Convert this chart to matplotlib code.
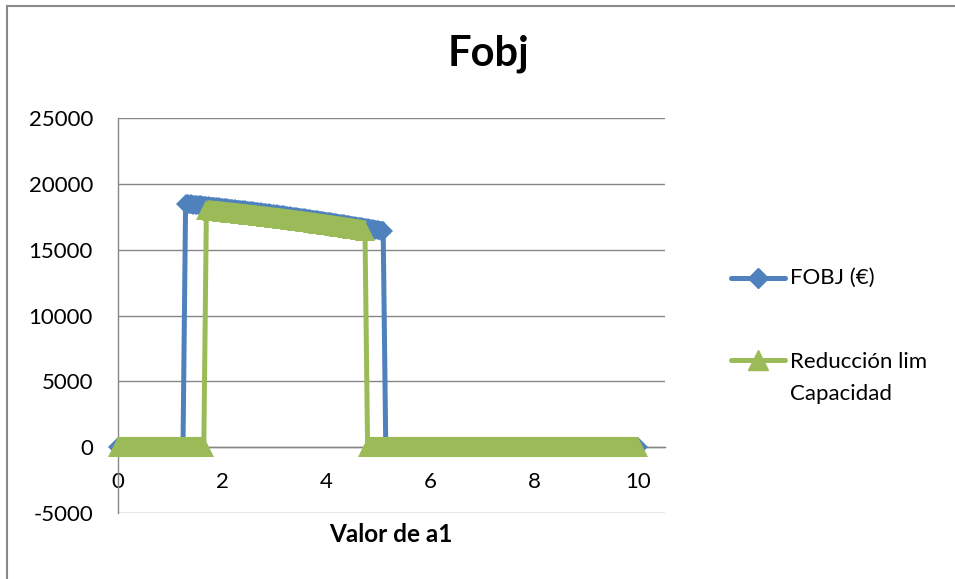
import numpy as np
import matplotlib
matplotlib.use("Agg")
import matplotlib.pyplot as plt
from matplotlib.lines import Line2D
from matplotlib.patches import Rectangle

plt.rcParams['font.family'] = ['Lato', 'DejaVu Sans']

# ---------------- data ----------------
title = "Fobj"
x_label = "Valor de a1"
series_names = ["FOBJ (€)", "Reducción lim\nCapacidad"]
x_ticks = [0, 2, 4, 6, 8, 10]
y_ticks = [-5000, 0, 5000, 10000, 15000, 20000, 25000]

# a1 sampled every 0.05 from 0 to 10
a1 = np.round(np.arange(0, 10.0001, 0.05), 2)

# FOBJ: zero for a1 <= 1.25, values for 1.30..5.10, zero for a1 >= 5.15
fobj_active = [18480, 18460, 18441, 18421, 18400, 18380, 18359, 18339, 18318, 18296,
               18275, 18253, 18232, 18210, 18187, 18165, 18142, 18120, 18097, 18073,
               18050, 18026, 18003, 17979, 17954, 17930, 17905, 17881, 17856, 17830,
               17805, 17779, 17754, 17728, 17701, 17675, 17648, 17622, 17595, 17567,
               17540, 17512, 17485, 17457, 17428, 17400, 17371, 17343, 17314, 17284,
               17255, 17225, 17196, 17166, 17135, 17105, 17074, 17044, 17013, 16981,
               16950, 16918, 16887, 16855, 16822, 16790, 16757, 16725, 16692, 16658,
               16625, 16591, 16558, 16524, 16489, 16455, 16420]
fobj = [0] * 26 + fobj_active + [0] * 98

# Reducción lim Capacidad: zero for a1 <= 1.65, values for 1.70..4.75, zero after
red_active = [18000, 17981, 17961, 17941, 17921, 17901, 17881, 17860, 17839, 17818,
              17797, 17776, 17754, 17732, 17710, 17688, 17666, 17643, 17620, 17597,
              17574, 17551, 17527, 17503, 17479, 17455, 17431, 17406, 17381, 17356,
              17331, 17306, 17280, 17254, 17228, 17202, 17176, 17149, 17122, 17095,
              17068, 17041, 17013, 16985, 16957, 16929, 16901, 16872, 16843, 16814,
              16785, 16756, 16726, 16696, 16666, 16636, 16606, 16575, 16544, 16513,
              16482, 16451]
reduccion = [0] * 34 + red_active + [0] * 105

# ---------------- style ----------------
BLUE = "#4F81BD"
GREEN = "#9BBB59"
GRID = "#868686"

W, H = 955, 579
fig = plt.figure(figsize=(W / 100, H / 100), dpi=100)

def fx(px):
    return px / W

def fy(py):
    return 1 - py / H

# chart border
fig.add_artist(Rectangle((fx(7), fy(H + 20)), 2, fy(6) - fy(H + 20),
                         transform=fig.transFigure, fill=False,
                         edgecolor="#898989", linewidth=1.5))

ax = fig.add_axes([fx(118), fy(513), (665 - 118) / W, (513 - 118) / H])
ax.set_xlim(0, 10.52)
ax.set_ylim(-5000, 25000)


def draw_series(y, color, marker, ms, band_lw, z):
    y = np.asarray(y, dtype=float)
    # connecting line with dense markers (as in the spreadsheet chart)
    ax.plot(a1, y, color=color, lw=3.6, marker=marker, markersize=ms,
            markerfacecolor=color, markeredgecolor=color, markeredgewidth=0,
            clip_on=False, zorder=z)
    # the overlapping markers merge into a solid band: smooth it
    zero_part = np.ma.masked_where(y != 0, y)
    active_part = np.ma.masked_where(y == 0, y)
    for part in (zero_part, active_part):
        ax.plot(a1, part, color=color, lw=band_lw, solid_capstyle="butt",
                clip_on=False, zorder=z)


draw_series(fobj, BLUE, "D", 9.8, 13.2, 3)
draw_series(reduccion, GREEN, "^", 14.5, 14.5, 4)

ax.set_yticks(y_ticks)
ax.set_xticks(x_ticks)
ax.set_yticklabels([str(v) for v in y_ticks])
ax.set_xticklabels([str(v) for v in x_ticks])
ax.yaxis.grid(True, color=GRID, lw=1.0)
ax.xaxis.grid(False)
ax.set_axisbelow(True)

for s in ["top", "right"]:
    ax.spines[s].set_visible(False)
ax.spines["left"].set_color(GRID)
ax.spines["left"].set_linewidth(1.0)
ax.spines["bottom"].set_position(("data", 0))
ax.spines["bottom"].set_color(GRID)
ax.spines["bottom"].set_linewidth(1.0)

ax.tick_params(axis="y", length=0, pad=18, labelsize=16, labelcolor="black")
ax.tick_params(axis="x", length=0, pad=18, labelsize=16, labelcolor="black")

# title and axis title
fig.text(fx(488), fy(54), title, ha="center", va="center",
         fontsize=30, fontweight="bold")
fig.text(fx(391), fy(535), x_label, ha="center", va="center",
         fontsize=17.5, fontweight="bold")

# legend (drawn at right of plot area)
leg_items = [(BLUE, "D", 9.8, 278), (GREEN, "^", 14.5, 360)]
for col, mk, ms, ypx in leg_items:
    fig.add_artist(Line2D([fx(731), fx(785)], [fy(ypx), fy(ypx)],
                          transform=fig.transFigure, color=col, lw=3.6,
                          solid_capstyle="round"))
    fig.add_artist(Line2D([fx(758)], [fy(ypx)], transform=fig.transFigure,
                          marker=mk, markersize=ms, color=col, lw=0))
fig.text(fx(790), fy(278), series_names[0], ha="left", va="center", fontsize=16)
fig.text(fx(790), fy(352 - 0), series_names[1], ha="left", va="top",
         fontsize=16, linespacing=1.75)

fig.savefig("out.png", dpi=100)
